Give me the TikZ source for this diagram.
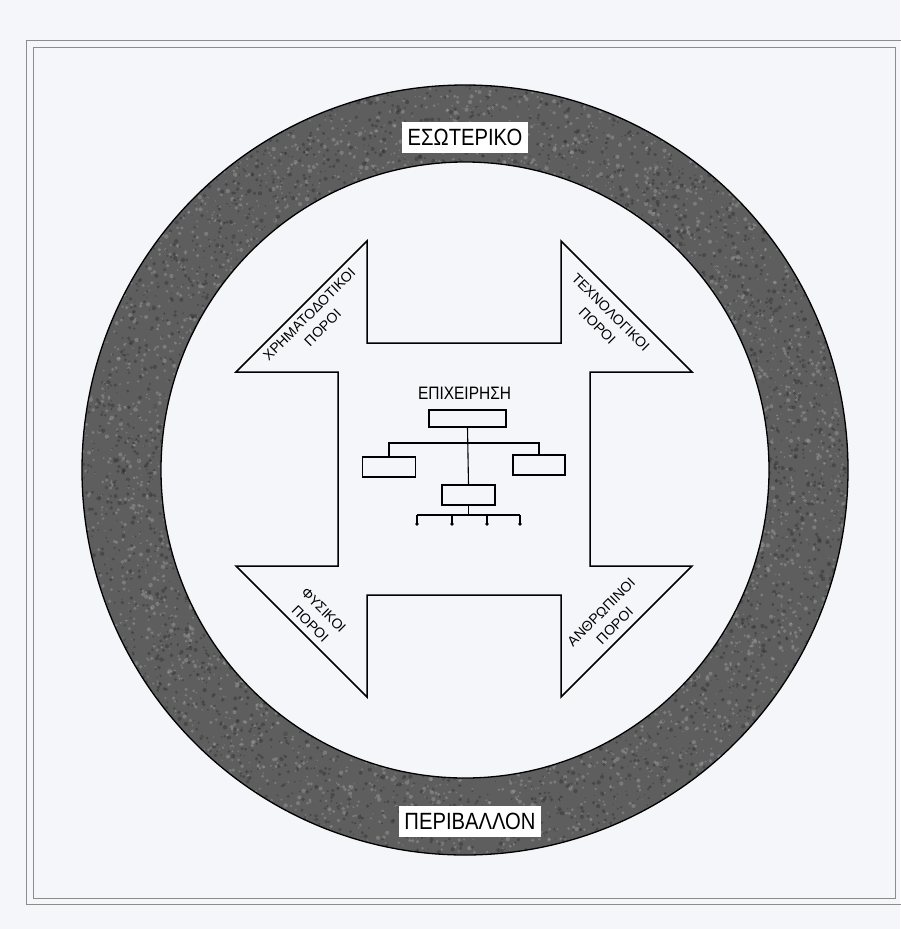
\documentclass[tikz,border=0pt]{standalone}
\usepackage{fontspec}
\setmainfont{Liberation Sans}
\newfontfamily\narrowfont[FakeStretch=0.86]{Liberation Sans}
\definecolor{bg}{HTML}{F4F6F9}
\definecolor{framegray}{HTML}{8C8C8C}
\definecolor{ringgray}{HTML}{5E5E5E}
\definecolor{speckle light}{HTML}{A8A8A8}
\definecolor{speckle dark}{HTML}{2A2A2A}
\begin{document}
\begin{tikzpicture}[x=1pt,y=-1pt,
  frameline/.style={draw=framegray, line width=0.9pt},
  ringedge/.style={draw=black, line width=1.3pt},
  arrowline/.style={draw=black, line width=1.5pt, line join=miter, fill=bg},
  orgline/.style={draw=black, line width=1.1pt},
  orgbox/.style={draw=black, line width=1.1pt, inner sep=0pt},
  leafdot/.style={fill=black},
  ringlabel/.style={fill=white, draw=none, inner xsep=6pt, inner ysep=0pt, minimum height=31pt,
    font=\narrowfont\fontsize{23.5}{26}\selectfont, text=black},
  reslabel/.style={align=center, font=\fontsize{14}{19}\selectfont, inner sep=0pt},
  firmlabel/.style={font=\narrowfont\fontsize{18}{20}\selectfont, inner sep=0pt}
]
\useasboundingbox (0,0) rectangle (900,929);
% background
\fill[bg] (0,0) rectangle (900,929);
% double frame
\draw[frameline] (26,40) rectangle (902,904);
\draw[frameline] (33,47) rectangle (895,898);

% ring
\coordinate (c) at (465,470);
\fill[ringgray, even odd rule] (c) ellipse[x radius=383pt, y radius=385pt] (c) ellipse[x radius=304pt, y radius=308pt];
\begin{scope}[even odd rule]
  \clip (c) ellipse[x radius=383pt, y radius=385pt] (c) ellipse[x radius=304pt, y radius=308pt];
  \pgfmathsetseed{11}
  \foreach \i in {1,...,2600}{
    \pgfmathsetmacro{\ang}{rnd*360}
    \pgfmathsetmacro{\rad}{300+rnd*88}
    \pgfmathsetmacro{\sz}{0.6+rnd*1.6}
    \fill[speckle light, opacity=0.4] (c) ++(\ang:\rad pt) circle[radius=\sz pt];
  }
  \foreach \i in {1,...,2600}{
    \pgfmathsetmacro{\ang}{rnd*360}
    \pgfmathsetmacro{\rad}{300+rnd*88}
    \pgfmathsetmacro{\sz}{0.6+rnd*1.6}
    \fill[speckle dark, opacity=0.4] (c) ++(\ang:\rad pt) circle[radius=\sz pt];
  }
\end{scope}
\draw[ringedge] (c) ellipse[x radius=383pt, y radius=385pt];
\draw[ringedge, fill=bg] (c) ellipse[x radius=304pt, y radius=308pt];

% four-arrow shape
\draw[arrowline]
  (367,343) -- (367,241) -- (236,372) -- (338,372) --
  (338,566) -- (236,566) -- (367,697) -- (367,595) --
  (561,595) -- (561,697) -- (692,566) -- (590,566) --
  (590,372) -- (692,372) -- (561,241) -- (561,343) -- cycle;

% resource labels
\node[reslabel, rotate=45]  (finres)  at (316,321) {ΧΡΗΜΑΤΟΔΟΤΙΚΟΙ\\ΠΟΡΟΙ};
\node[reslabel, rotate=-45] (techres) at (604,319) {ΤΕΧΝΟΛΟΓΙΚΟΙ\\ΠΟΡΟΙ};
\node[reslabel, rotate=-45] (physres) at (317,617) {ΦΥΣΙΚΟΙ\\ΠΟΡΟΙ};
\node[reslabel, rotate=45]  (humres)  at (608,619) {ΑΝΘΡΩΠΙΝΟΙ\\ΠΟΡΟΙ};

% organisation chart
\node[firmlabel] (firm) at (464.5,393.5) {ΕΠΙΧΕΙΡΗΣΗ};
\node[orgbox, minimum width=77pt, minimum height=17pt] (topbox) at (467.5,418.5) {};
\node[orgbox, minimum width=53pt, minimum height=20pt] (leftbox) at (389,467) {};
\node[orgbox, minimum width=52pt, minimum height=20pt] (rightbox) at (539,465) {};
\node[orgbox, minimum width=53pt, minimum height=20pt] (midbox) at (468.5,495) {};
\coordinate (bar) at (468.5,443);
\draw[orgline] (topbox.south) -- (midbox.north);
\draw[orgline] (leftbox.north) -- (leftbox.north |- bar) -- (rightbox.north |- bar) -- (rightbox.north);
\coordinate (hub) at (468.5,515);
\coordinate (leafA) at (417,524);
\coordinate (leafB) at (452,524);
\coordinate (leafC) at (487,524);
\coordinate (leafD) at (520,524);
\draw[orgline] (midbox.south) -- (hub);
\draw[orgline] (leafA |- hub) -- (leafD |- hub);
\foreach \l in {leafA,leafB,leafC,leafD}{
  \draw[orgline] (\l |- hub) -- (\l);
  \fill[leafdot] (\l) circle[radius=1.9pt];
}

% ring labels
\node[ringlabel] (inner) at (465,137.5) {ΕΣΩΤΕΡΙΚΟ};
\node[ringlabel, inner xsep=5pt] (outer) at (470,821) {ΠΕΡΙΒΑΛΛΟΝ};
\end{tikzpicture}
\end{document}
